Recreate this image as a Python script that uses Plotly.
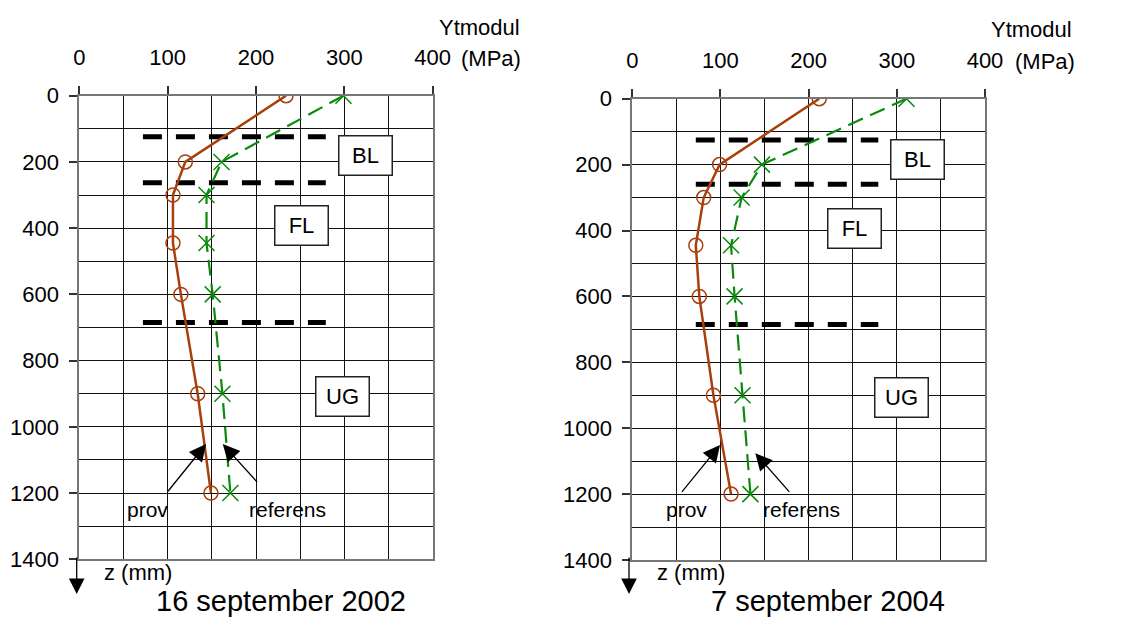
import plotly.graph_objects as go

# ---------------- data ----------------
depth = [0, 200, 300, 445, 600, 900, 1200]          # z (mm)
prov_2002 = [234, 120, 106, 106, 115, 134, 149]     # Ytmodul (MPa)
ref_2002 = [299, 161, 144, 144, 151, 162, 171]
prov_2004 = [212, 99, 81, 72, 76, 92, 112]
ref_2004 = [311, 147, 124, 112, 116, 125, 134]

boundaries_2002 = [124, 263, 685]   # layer boundaries (mm)
boundaries_2004 = [125, 260, 685]
boundary_x = [72, 279]               # extent of boundary lines (MPa)

layer_labels = ["BL", "FL", "UG"]
x_ticks = [0, 100, 200, 300, 400]
y_ticks = [0, 200, 400, 600, 800, 1000, 1200, 1400]
titles = ["16 september 2002", "7 september 2004"]

W, H = 1121, 618
OFF = 8                      # browser default body margin
FW, FH = W - OFF, H - OFF
FONT = "Liberation Sans, Arial, sans-serif"
BROWN = "#A8400E"
GREEN = "#0A8A0A"


def px(x):
    return (x - OFF) / FW


def py(y):
    return 1 - (y - OFF) / FH


fig = go.Figure()

panels = [
    dict(prov=prov_2002, ref=ref_2002, bnd=boundaries_2002, xa="x", ya="y",
         xdom=(79.3, 432.7), ydom=(95.7, 559.3),
         boxes=[(324, 182), (252, 392), (298, 907)],
         prov_arrow=((143.5, 1052), (99, 1199)), ref_arrow=((162.4, 1052), (202.7, 1171)),
         prov_txt=(76.7, 1251), ref_txt=(236, 1251),
         title_x=281, z_x=138, down_x=76.7, ytm_x=479, mpa_x=490.7),
    dict(prov=prov_2004, ref=ref_2004, bnd=boundaries_2004, xa="x2", ya="y2",
         xdom=(632.3, 985.0), ydom=(98.7, 560.0),
         boxes=[(324, 184), (252, 393), (305, 907)],
         prov_arrow=((99.5, 1051), (54.9, 1198)), ref_arrow=((139.5, 1076), (179.6, 1198)),
         prov_txt=(61, 1248), ref_txt=(191.6, 1248),
         title_x=828, z_x=691, down_x=629, ytm_x=1031.3, mpa_x=1045),
]

annotations = []
for i, p in enumerate(panels):
    xa, ya = p["xa"], p["ya"]
    # layer boundary lines
    bx, by = [], []
    for d in p["bnd"]:
        bx += [boundary_x[0], boundary_x[1], None]
        by += [d, d, None]
    fig.add_trace(go.Scatter(x=bx, y=by, mode="lines", xaxis=xa, yaxis=ya,
                             line=dict(color="black", width=5, dash="19px,14px"),
                             hoverinfo="skip"))
    # referens
    fig.add_trace(go.Scatter(x=p["ref"], y=depth, mode="lines+markers", xaxis=xa, yaxis=ya,
                             name="referens",
                             line=dict(color=GREEN, width=2.2, dash="16px,8px"),
                             marker=dict(symbol="x-thin-open", size=16,
                                         line=dict(color=GREEN, width=1.5))))
    # prov
    fig.add_trace(go.Scatter(x=p["prov"], y=depth, mode="lines+markers", xaxis=xa, yaxis=ya,
                             name="prov",
                             line=dict(color=BROWN, width=2.5),
                             marker=dict(symbol="circle-open", size=14, color=BROWN,
                                         line=dict(color=BROWN, width=1.5))))

    # layer label boxes
    for lab, (bxv, byv) in zip(layer_labels, p["boxes"]):
        annotations.append(dict(x=bxv, y=byv, xref=xa, yref=ya, text=lab, showarrow=False,
                                xanchor="center", yanchor="middle",
                                font=dict(size=22, color="black", family=FONT),
                                bgcolor="white", bordercolor="#222", borderwidth=1.5,
                                width=48, height=34, borderpad=2))
    # prov / referens arrows
    for (head, tail) in (p["prov_arrow"], p["ref_arrow"]):
        annotations.append(dict(x=head[0], y=head[1], ax=tail[0], ay=tail[1],
                                xref=xa, yref=ya, axref=xa, ayref=ya, text="",
                                showarrow=True, arrowhead=2, arrowsize=2.6,
                                arrowwidth=1.3, arrowcolor="black"))
    annotations.append(dict(x=p["prov_txt"][0], y=p["prov_txt"][1], xref=xa, yref=ya,
                            text="prov", showarrow=False, xanchor="center", yanchor="middle",
                            font=dict(size=21, color="black", family=FONT)))
    annotations.append(dict(x=p["ref_txt"][0], y=p["ref_txt"][1], xref=xa, yref=ya,
                            text="referens", showarrow=False, xanchor="center", yanchor="middle",
                            font=dict(size=21, color="black", family=FONT)))
    # titles and axis labels
    annotations.append(dict(x=px(p["title_x"]), y=py(601), xref="paper", yref="paper",
                            text=titles[i], showarrow=False, xanchor="center", yanchor="middle",
                            font=dict(size=29, color="black", family=FONT)))
    annotations.append(dict(x=px(p["z_x"]), y=py(572), xref="paper", yref="paper",
                            text="z (mm)", showarrow=False, xanchor="center", yanchor="middle",
                            font=dict(size=22, color="black", family=FONT)))
    annotations.append(dict(x=px(p["ytm_x"]), y=py(27 + 2 * i), xref="paper", yref="paper",
                            text="Ytmodul", showarrow=False, xanchor="center", yanchor="middle",
                            font=dict(size=22, color="black", family=FONT)))
    annotations.append(dict(x=px(p["mpa_x"]), y=py(59 + 2 * i), xref="paper", yref="paper",
                            text="(MPa)", showarrow=False, xanchor="center", yanchor="middle",
                            font=dict(size=22, color="black", family=FONT)))
    # downward arrow below y axis
    annotations.append(dict(x=px(p["down_x"]), y=py(594), ax=0, ay=-38,
                            xref="paper", yref="paper", text="", showarrow=True,
                            arrowhead=2, arrowsize=2.4, arrowwidth=1.3, arrowcolor="black"))

axis_common_x = dict(range=[0, 400], side="top", tickvals=x_ticks, ticks="outside",
                     ticklen=8, tickcolor="#333", tickwidth=1.5,
                     tickfont=dict(size=22, color="black", family=FONT),
                     showgrid=True, gridcolor="#111", gridwidth=1,
                     minor=dict(dtick=50, tick0=0, showgrid=True, gridcolor="#111",
                                gridwidth=1, ticks=""),
                     showline=True, linecolor="#777", linewidth=2, mirror=True,
                     zeroline=False, ticklabelstandoff=12, fixedrange=True,
                     automargin=False)
axis_common_y = dict(range=[1400, 0], tickvals=y_ticks, ticks="outside",
                     ticklen=8, tickcolor="#333", tickwidth=1.5,
                     tickfont=dict(size=22, color="black", family=FONT),
                     showgrid=True, gridcolor="#111", gridwidth=1,
                     minor=dict(dtick=100, tick0=0, showgrid=True, gridcolor="#111",
                                gridwidth=1, ticks=""),
                     showline=True, linecolor="#777", linewidth=2, mirror=True,
                     zeroline=False, ticklabelstandoff=6, fixedrange=True,
                     automargin=False)

lay = dict(width=FW, height=FH, margin=dict(l=0, r=0, t=0, b=0, autoexpand=False),
           paper_bgcolor="white", plot_bgcolor="white", showlegend=False,
           font=dict(family=FONT, color="black"), annotations=annotations)
for i, p in enumerate(panels):
    sx = "" if i == 0 else "2"
    lay["xaxis" + sx] = dict(axis_common_x, domain=[px(p["xdom"][0]), px(p["xdom"][1])],
                             anchor="y" + sx)
    lay["yaxis" + sx] = dict(axis_common_y, domain=[py(p["ydom"][1]), py(p["ydom"][0])],
                             anchor="x" + sx)
fig.update_layout(**lay)

fig.write_html("out.html")
